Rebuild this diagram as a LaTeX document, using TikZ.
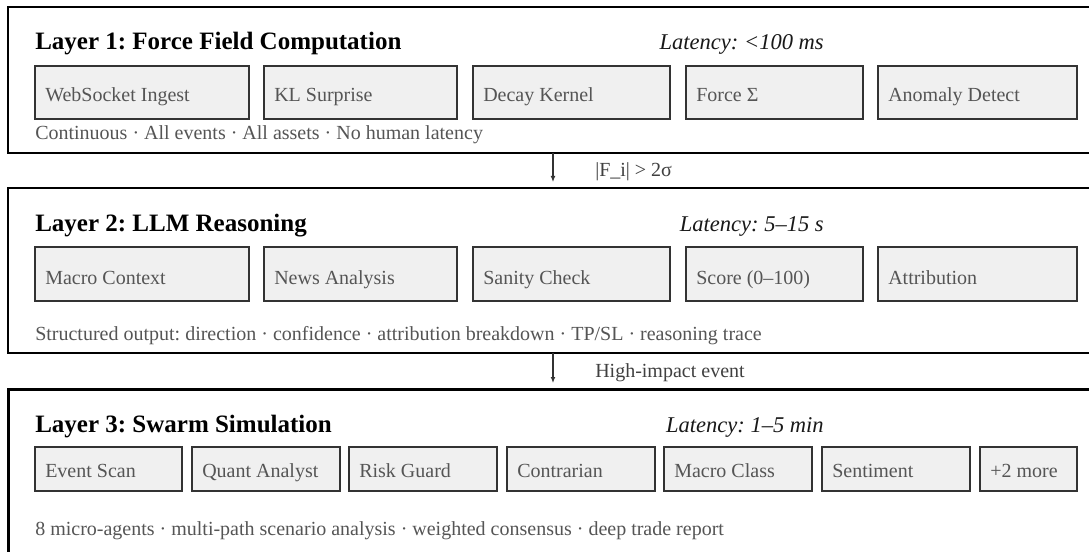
\documentclass[tikz,border=0pt]{standalone}
\usepackage{fontspec}
\setmainfont{Liberation Serif}
\usetikzlibrary{arrows.meta}
\frenchspacing
\definecolor{cellfill}{HTML}{F0F0F0}
\definecolor{cellline}{HTML}{333333}
\definecolor{softtext}{HTML}{555555}
\tikzset{
  frame/.style={draw=black, fill=none, anchor=north west, inner sep=0pt, outer sep=0pt},
  cellbox/.style={draw=cellline, fill=cellfill, line width=1.1pt, anchor=north west, inner sep=0pt, outer sep=0pt},
  celltext/.style={anchor=base west, inner sep=0pt, text=softtext, font=\fontsize{15}{18}\selectfont},
  title/.style={anchor=base west, inner sep=0pt, font=\fontsize{18.75}{22}\selectfont\bfseries},
  latency/.style={anchor=base east, inner sep=0pt, text=black!90, font=\fontsize{16.9}{20}\selectfont\itshape},
  footnote/.style={anchor=base west, inner sep=0pt, text=softtext, font=\fontsize{15}{18}\selectfont},
  flowlabel/.style={anchor=base west, inner sep=0pt, text=black!75, font=\fontsize{15}{18}\selectfont},
  flow/.style={draw=black!80, line width=0.8pt, -{Latex[length=4.5pt,width=3.6pt]}}
}
\begin{document}
\begin{tikzpicture}[x=0.75pt,y=-0.75pt]
\useasboundingbox (0,0) rectangle (1089,552);
\clip (0,0) rectangle (1089,552);
\fill[white] (0,0) rectangle (1089,552);

% three stacked layer frames (open to the right and bottom)
\node[frame, line width=1.5pt, minimum width={1110*0.75pt}, minimum height={146*0.75pt}] (L1) at (8,7) {};
\node[frame, line width=1.7pt, minimum width={1110*0.75pt}, minimum height={165*0.75pt}] (L2) at (8,188) {};
\node[frame, line width=2.25pt, minimum width={1110*0.75pt}, minimum height={200*0.75pt}] (L3) at (8,389) {};

% Layer 1
\node[title] (t1) at (35,50) {Layer 1: Force Field Computation};
\node[latency] (lat1) at (824,50) {Latency: <100 ms};
\foreach \n/\xa/\xb/\t in {a1/35/249/{WebSocket Ingest}, a2/264/457/{KL Surprise}, a3/473/670/{Decay Kernel}, a4/686/863/{Force Σ}, a5/878/1077/{Anomaly Detect}}{
  \node[cellbox, minimum width={(\xb-\xa)*0.75pt}, minimum height={53*0.75pt}] (\n) at (\xa,66) {};
  \node[celltext] (\n-t) at (\xa+10,102) {\t};
}
\node[footnote] (f1) at (35,140) {Continuous · All events · All assets · No human latency};

% Layer 2
\node[title] (t2) at (35,232) {Layer 2: LLM Reasoning};
\node[latency] (lat2) at (824,232) {Latency: 5–15 s};
\foreach \n/\xa/\xb/\t in {b1/35/249/{Macro Context}, b2/264/457/{News Analysis}, b3/473/670/{Sanity Check}, b4/686/863/{Score (0–100)}, b5/878/1077/{Attribution}}{
  \node[cellbox, minimum width={(\xb-\xa)*0.75pt}, minimum height={54*0.75pt}] (\n) at (\xa,247) {};
  \node[celltext] (\n-t) at (\xa+10,285) {\t};
}
\node[footnote] (f2) at (35,340) {Structured output: direction · confidence · attribution breakdown · TP/SL · reasoning trace};

% Layer 3
\node[title] (t3) at (35,432) {Layer 3: Swarm Simulation};
\node[latency] (lat3) at (824,432) {Latency: 1–5 min};
\foreach \n/\xa/\xb/\t in {c1/35/182/{Event Scan}, c2/192/340/{Quant Analyst}, c3/349/497/{Risk Guard}, c4/507/655/{Contrarian}, c5/664/812/{Macro Class}, c6/822/970/{Sentiment}, c7/980/1077/{+2 more}}{
  \node[cellbox, minimum width={(\xb-\xa)*0.75pt}, minimum height={44*0.75pt}] (\n) at (\xa,447) {};
  \node[celltext] (\n-t) at (\xa+10,477) {\t};
}
\node[footnote] (f3) at (35,535) {8 micro-agents · multi-path scenario analysis · weighted consensus · deep trade report};

% escalation arrows between layers
\coordinate (axis) at (553,0);
\draw[flow, shorten >=4.5pt] (L1.south -| axis) -- (L2.north -| axis);
\draw[flow, shorten >=4.5pt] (L2.south -| axis) -- (L3.north -| axis);
\node[flowlabel] (g1) at (595,177) {|F\_i| > 2σ};
\node[flowlabel] (g2) at (595,378) {High-impact event};
\end{tikzpicture}
\end{document}
